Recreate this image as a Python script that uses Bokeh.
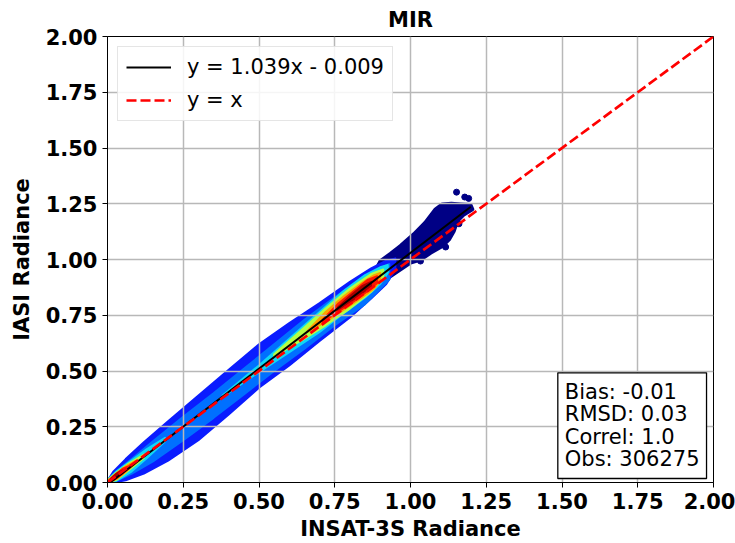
from bokeh.plotting import figure
from bokeh.models import FixedTicker, NumeralTickFormatter, Legend, LegendItem, Label, Range1d
from bokeh.embed import file_html
from bokeh.resources import INLINE

# ---------------- data ----------------
TITLE = "MIR"
X_LABEL = "INSAT-3S Radiance"
Y_LABEL = "IASI Radiance"
TICKS = [0.0, 0.25, 0.5, 0.75, 1.0, 1.25, 1.5, 1.75, 2.0]

FIT_SLOPE = 1.039
FIT_INTERCEPT = -0.009
FIT_X = [0.009, 1.199]          # x extent of the fitted line
IDENT_X = [0.0, 2.0]            # y = x line extent

STAT_BIAS = "-0.01"
STAT_RMSD = "0.03"
STAT_CORREL = "1.0"
STAT_OBS = "306275"

# density levels (outer -> inner), each: x stations, lower y, upper y
L1_X  = [0.0, 0.02, 0.06, 0.12, 0.2, 0.3, 0.4, 0.5, 0.6, 0.7, 0.8, 0.87, 0.92, 0.95]
L1_HI = [0.008, 0.05, 0.105, 0.18, 0.275, 0.39, 0.505, 0.62, 0.715, 0.805, 0.9, 0.96, 0.995, 1.005]
L1_LO = [0.0, 0.0, 0.01, 0.04, 0.098, 0.19, 0.305, 0.425, 0.525, 0.635, 0.74, 0.825, 0.89, 0.955]

L2_X  = [0.005, 0.03, 0.08, 0.15, 0.25, 0.35, 0.45, 0.55, 0.65, 0.75, 0.85, 0.93]
L2_HI = [0.012, 0.05, 0.105, 0.185, 0.295, 0.40, 0.51, 0.62, 0.73, 0.83, 0.925, 0.98]
L2_LO = [0.0, 0.008, 0.04, 0.095, 0.19, 0.29, 0.395, 0.50, 0.60, 0.705, 0.80, 0.91]

L3A_X  = [0.0, 0.03, 0.08, 0.13, 0.19]
L3A_HI = [0.012, 0.05, 0.10, 0.15, 0.20]
L3A_LO = [0.0, 0.008, 0.05, 0.11, 0.185]
L3B_X  = [0.38, 0.5, 0.6, 0.7, 0.78, 0.85, 0.9, 0.925]
L3B_HI = [0.39, 0.525, 0.645, 0.765, 0.86, 0.93, 0.965, 0.975]
L3B_LO = [0.385, 0.495, 0.585, 0.675, 0.76, 0.83, 0.89, 0.94]

L4A_X  = [0.0, 0.03, 0.07, 0.12]
L4A_HI = [0.01, 0.045, 0.085, 0.125]
L4A_LO = [0.0, 0.012, 0.055, 0.11]
L4B_X  = [0.55, 0.65, 0.72, 0.8, 0.87, 0.91]
L4B_HI = [0.575, 0.695, 0.78, 0.87, 0.935, 0.955]
L4B_LO = [0.565, 0.645, 0.705, 0.78, 0.855, 0.92]

L5A_X  = [0.002, 0.03, 0.06, 0.095]
L5A_HI = [0.01, 0.04, 0.072, 0.098]
L5A_LO = [0.0, 0.016, 0.048, 0.09]
L5B_X  = [0.66, 0.72, 0.78, 0.84, 0.88, 0.9]
L5B_HI = [0.68, 0.765, 0.835, 0.895, 0.93, 0.94]
L5B_LO = [0.675, 0.72, 0.775, 0.83, 0.87, 0.905]

L6A_X  = [0.004, 0.025, 0.05, 0.075]
L6A_HI = [0.008, 0.035, 0.062, 0.076]
L6A_LO = [0.0, 0.015, 0.04, 0.07]
L6B_X  = [0.71, 0.76, 0.81, 0.86, 0.89]
L6B_HI = [0.73, 0.80, 0.855, 0.91, 0.925]
L6B_LO = [0.72, 0.765, 0.81, 0.86, 0.895]

L7A_X  = [0.01, 0.03, 0.05]
L7A_HI = [0.015, 0.04, 0.054]
L7A_LO = [0.006, 0.022, 0.044]
L7B_X  = [0.76, 0.8, 0.84, 0.87]
L7B_HI = [0.785, 0.835, 0.88, 0.9]
L7B_LO = [0.775, 0.81, 0.85, 0.88]

# sparse (low density) cloud at the high end: outline and isolated points
SPARSE_X = [0.885, 0.901, 0.934, 0.967, 1.011, 1.049, 1.083, 1.105, 1.135, 1.165, 1.198, 1.204,
            1.176, 1.154, 1.143, 1.127, 1.105, 1.066, 1.033, 1.0, 0.967, 0.934, 0.901, 0.885]
SPARSE_Y = [0.95, 0.993, 1.025, 1.06, 1.113, 1.165, 1.225, 1.247, 1.25, 1.247, 1.244, 1.225,
            1.202, 1.172, 1.128, 1.09, 1.06, 1.03, 1.0, 0.986, 0.956, 0.926, 0.904, 0.87]
OUTLIER_X = [1.152, 1.179, 1.192, 1.160, 1.116, 1.033]
OUTLIER_Y = [1.302, 1.280, 1.274, 1.160, 1.056, 0.993]

# ---------------- styles ----------------
FONT = "DejaVu Sans"
LEVEL_COLORS = ["#0a1cff", "#0070ff", "#10d8f4", "#b4ff44", "#ffa000", "#ff1a00", "#a80000"]
SPARSE_COLOR = "#000085"


def poly(xs, lo, hi):
    return list(xs) + list(xs)[::-1], list(hi) + list(lo)[::-1]


p = figure(width=735, height=543, output_backend="svg", toolbar_location=None,
           x_range=Range1d(0, 2), y_range=Range1d(0, 2),
           min_border_left=107, min_border_right=22, min_border_top=35, min_border_bottom=61,
           title=TITLE)

p.title.align = "center"
p.title.text_font = FONT
p.title.text_font_size = "21px"
p.title.text_font_style = "bold"
p.title.text_color = "black"
p.title.standoff = 10

levels = [
    [(L1_X, L1_LO, L1_HI)],
    [(L2_X, L2_LO, L2_HI)],
    [(L3A_X, L3A_LO, L3A_HI), (L3B_X, L3B_LO, L3B_HI)],
    [(L4A_X, L4A_LO, L4A_HI), (L4B_X, L4B_LO, L4B_HI)],
    [(L5A_X, L5A_LO, L5A_HI), (L5B_X, L5B_LO, L5B_HI)],
    [(L6A_X, L6A_LO, L6A_HI), (L6B_X, L6B_LO, L6B_HI)],
    [(L7A_X, L7A_LO, L7A_HI), (L7B_X, L7B_LO, L7B_HI)],
]

# sparse cloud first (under the dense band end)
r = p.patch(SPARSE_X, SPARSE_Y, fill_color=SPARSE_COLOR, line_color=SPARSE_COLOR, line_width=4,
            line_join="round")
r.level = "image"
r = p.scatter(OUTLIER_X, OUTLIER_Y, size=6, fill_color=SPARSE_COLOR, line_color=SPARSE_COLOR)
r.level = "image"

for color, segs in zip(LEVEL_COLORS, levels):
    xs, ys = [], []
    for sx, slo, shi in segs:
        px, py = poly(sx, slo, shi)
        xs.append(px)
        ys.append(py)
    r = p.patches(xs, ys, fill_color=color, line_color=color, line_width=2, line_join="round")
    r.level = "image"

fit_y = [FIT_SLOPE * x + FIT_INTERCEPT for x in FIT_X]
fit_r = p.line(FIT_X, fit_y, line_color="black", line_width=2)
id_r = p.line(IDENT_X, IDENT_X, line_color="red", line_width=2.7, line_dash="10 4")

# axes
for ax in (p.xaxis[0], p.yaxis[0]):
    ax.ticker = FixedTicker(ticks=TICKS)
    ax.formatter = NumeralTickFormatter(format="0.00")
    ax.major_label_text_font = FONT
    ax.major_label_text_font_size = "21px"
    ax.major_label_text_font_style = "bold"
    ax.major_label_text_color = "black"
    ax.axis_label_text_font = FONT
    ax.axis_label_text_font_size = "21px"
    ax.axis_label_text_font_style = "bold"
    ax.axis_label_text_color = "black"
    ax.minor_tick_line_color = None
    ax.major_tick_in = 0
    ax.major_tick_out = 5
    ax.major_tick_line_color = "black"
    ax.axis_line_color = "black"
p.xaxis.axis_label = X_LABEL
p.yaxis.axis_label = Y_LABEL
p.xaxis.major_label_standoff = 5
p.yaxis.major_label_standoff = 5
p.xaxis.axis_label_standoff = 5
p.yaxis.axis_label_standoff = 9

p.outline_line_color = "black"
p.outline_line_width = 1
p.grid.grid_line_color = "#b8b8b8"
p.grid.grid_line_width = 1.5

fit_label = f"y = {FIT_SLOPE:.3f}x - {abs(FIT_INTERCEPT):.3f}"
legend = Legend(items=[LegendItem(label=fit_label, renderers=[fit_r]),
                       LegendItem(label="y = x", renderers=[id_r])],
                location="top_left")
legend.label_text_font = FONT
legend.label_text_font_size = "21px"
legend.label_text_color = "black"
legend.glyph_width = 45
legend.glyph_height = 22
legend.label_height = 22
legend.label_standoff = 16
legend.padding = 8
legend.spacing = 9
legend.margin = 10
legend.border_line_color = "#cccccc"
legend.border_line_width = 1
legend.background_fill_alpha = 0.85
p.add_layout(legend)

stats_text = "\n".join([f"Bias: {STAT_BIAS}", f"RMSD: {STAT_RMSD}",
                        f"Correl: {STAT_CORREL}", f"Obs: {STAT_OBS}"])
stats = Label(x=1.977, y=0.018, text=stats_text, anchor="bottom_right",
              text_font=FONT, text_font_size="21px", text_color="black",
              text_line_height=0.94,
              border_line_color="black", border_line_width=1.3,
              background_fill_color="white", padding=7)
p.add_layout(stats)

open("out.html", "w").write(file_html(p, INLINE))
